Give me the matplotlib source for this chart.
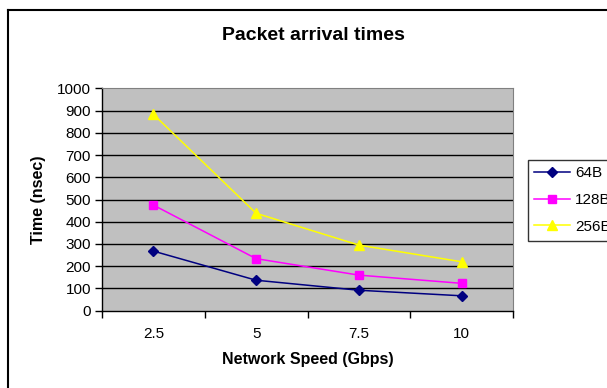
import matplotlib.pyplot as plt
from matplotlib.lines import Line2D
import numpy as np

plt.rcParams['font.family'] = ['Liberation Sans', 'DejaVu Sans']

# network speed categories (Gbps) and arrival times (nsec)
speeds = ['2.5', '5', '7.5', '10']
t_64 = [268, 137, 92, 67]
t_128 = [475, 234, 160, 123]
t_256 = [883, 438, 295, 220]

W, H = 607, 388
fig = plt.figure(figsize=(W / 100, H / 100), dpi=100)
ax = fig.add_axes([102 / W, 1 - 310.7 / H, (513 - 102) / W, (310.7 - 88.3) / H])
ax.set_facecolor('#C0C0C0')

x = np.arange(len(speeds))
ax.plot(x, t_64, color='#000080', marker='D', markersize=5, lw=1.1, label='64B')
ax.plot(x, t_128, color='#FF00FF', marker='s', markersize=5.5, lw=1.1, label='128B')
ax.plot(x, t_256, color='#FFFF00', marker='^', markersize=7, lw=1.1, label='256B')

ax.set_xlim(-0.5, len(speeds) - 0.5)
ax.set_ylim(0, 1000)
ax.set_yticks(np.arange(0, 1001, 100))
ax.set_xticks(x)
ax.set_xticklabels(speeds)
ax.set_xticks(np.arange(-0.5, len(speeds), 1), minor=True)
ax.tick_params(axis='x', which='major', length=0, pad=12, labelsize=11)
ax.tick_params(axis='x', which='minor', length=5, width=1, direction='out')
ax.tick_params(axis='y', length=5, width=1, direction='out', labelsize=11, pad=3)

for v in range(100, 1000, 100):
    ax.axhline(v, color='black', lw=1, zorder=1)

for s in ['top', 'right']:
    ax.spines[s].set_color('#808080')
    ax.spines[s].set_linewidth(0.8)
for s in ['left', 'bottom']:
    ax.spines[s].set_color('black')
    ax.spines[s].set_linewidth(1)

ax.set_ylabel('Time (nsec)', fontsize=11.5, fontweight='bold', labelpad=8)
ax.set_xlabel('Network Speed (Gbps)', fontsize=11.5, fontweight='bold', labelpad=8)
fig.text(313 / W, 1 - 35 / H, 'Packet arrival times', ha='center', va='center',
         fontsize=14, fontweight='bold')

# legend box runs past the right edge of the chart
leg = fig.legend(loc='upper left', bbox_to_anchor=(527.5 / W, 1 - 159.5 / H),
                 fontsize=11, frameon=True, fancybox=False, edgecolor='black',
                 handlelength=2.35, handletextpad=0.3, labelspacing=0.83,
                 borderpad=0.45, borderaxespad=0)
leg.get_frame().set_linewidth(1)

# chart border
fig.add_artist(Line2D([8 / W, 1], [1 - 10 / H, 1 - 10 / H], color='black', lw=1.5))
fig.add_artist(Line2D([8 / W, 8 / W], [0, 1 - 10 / H], color='black', lw=1.5))

fig.savefig('out.png', dpi=100)
